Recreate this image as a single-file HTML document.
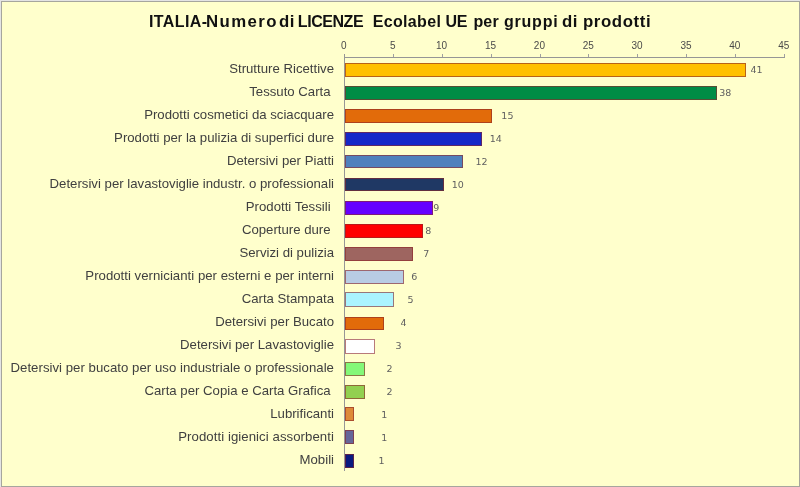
<!DOCTYPE html>
<html lang="it"><head><meta charset="utf-8"><title>ITALIA - Licenze Ecolabel UE</title>
<style>
html,body{margin:0;padding:0;}
body{width:800px;height:487px;overflow:hidden;background:#e4e4e4;position:relative;font-family:"Liberation Sans",sans-serif;}
#chart{position:absolute;left:1px;top:1px;width:797px;height:484px;background:#ffffcc;border:1px solid #a6a69e;}
.abs{position:absolute;white-space:pre;}
#title{position:absolute;left:0;top:10px;width:800px;height:24px;font-weight:bold;font-size:16px;line-height:24px;color:#111;}
#title span{position:absolute;top:0;white-space:pre;transform-origin:0 50%;}
.lab{font-size:13.2px;line-height:16px;color:#404040;text-align:right;left:0;}
.tick{font-size:10px;line-height:12px;color:#4a4a4a;width:40px;text-align:center;top:40px;}
.val{font-family:"DejaVu Sans","Liberation Sans",sans-serif;font-size:9.5px;line-height:12px;color:#606060;width:40px;text-align:center;}
.bar{box-sizing:border-box;border:1px solid rgba(140,40,40,0.62);height:14px;}
.ax{background:#969696;}
.tk{background:#a0a0a0;}
</style></head><body>
<div id="chart"></div>
<div id="title"><span style="left:149.0px;letter-spacing:0.38px">ITALIA-</span><span style="left:206.2px;letter-spacing:1.32px;transform:scaleX(1.05)">Numero </span><span style="left:279.0px;letter-spacing:0.48px;transform:scaleX(1.05)">di </span><span style="left:297.8px;letter-spacing:-0.44px">LICENZE  </span><span style="left:372.8px;letter-spacing:0.32px">Ecolabel </span><span style="left:445.6px;letter-spacing:-0.30px">UE </span><span style="left:473.4px;letter-spacing:0.18px">per </span><span style="left:504.0px;letter-spacing:0.78px">gruppi </span><span style="left:562.1px;letter-spacing:0.50px;transform:scaleX(1.05)">di </span><span style="left:583.4px;letter-spacing:0.56px;transform:scaleX(1.05)">prodotti</span></div>

<div class="abs ax" style="left:344px;top:54px;width:1px;height:417px"></div>
<div class="abs ax" style="left:344px;top:57px;width:441px;height:1px"></div>
<div class="abs tick" style="left:323.9px">0</div>
<div class="abs tk" style="left:392.9px;top:54px;width:1px;height:3px"></div>
<div class="abs tick" style="left:372.8px">5</div>
<div class="abs tk" style="left:441.7px;top:54px;width:1px;height:3px"></div>
<div class="abs tick" style="left:421.6px">10</div>
<div class="abs tk" style="left:490.6px;top:54px;width:1px;height:3px"></div>
<div class="abs tick" style="left:470.5px">15</div>
<div class="abs tk" style="left:539.5px;top:54px;width:1px;height:3px"></div>
<div class="abs tick" style="left:519.4px">20</div>
<div class="abs tk" style="left:588.3px;top:54px;width:1px;height:3px"></div>
<div class="abs tick" style="left:568.2px">25</div>
<div class="abs tk" style="left:637.2px;top:54px;width:1px;height:3px"></div>
<div class="abs tick" style="left:617.1px">30</div>
<div class="abs tk" style="left:686.1px;top:54px;width:1px;height:3px"></div>
<div class="abs tick" style="left:666.0px">35</div>
<div class="abs tk" style="left:734.9px;top:54px;width:1px;height:3px"></div>
<div class="abs tick" style="left:714.8px">40</div>
<div class="abs tk" style="left:783.8px;top:54px;width:1px;height:3px"></div>
<div class="abs tick" style="left:763.7px">45</div>
<div class="abs lab" style="top:60.5px;width:334.0px">Strutture Ricettive</div>
<div class="abs bar" style="left:345px;top:63.0px;width:400.9px;height:13.5px;background:#ffc000"></div>
<div class="abs val" style="left:736.5px;top:64.0px">41</div>
<div class="abs lab" style="top:83.5px;width:330.6px">Tessuto Carta</div>
<div class="abs bar" style="left:345px;top:86.0px;width:371.7px;height:14.0px;background:#008c45"></div>
<div class="abs val" style="left:705.2px;top:87.0px">38</div>
<div class="abs lab" style="top:106.5px;width:334.0px">Prodotti cosmetici da sciacquare</div>
<div class="abs bar" style="left:345px;top:108.5px;width:147.0px;height:14.5px;background:#e26b0a"></div>
<div class="abs val" style="left:487.4px;top:110.0px">15</div>
<div class="abs lab" style="top:129.5px;width:334.0px">Prodotti per la pulizia di superfici dure</div>
<div class="abs bar" style="left:345px;top:132.0px;width:137.2px;height:13.5px;background:#1428c8"></div>
<div class="abs val" style="left:475.7px;top:133.0px">14</div>
<div class="abs lab" style="top:152.5px;width:334.0px">Detersivi per Piatti</div>
<div class="abs bar" style="left:345px;top:154.5px;width:117.9px;height:13.5px;background:#4f81bd"></div>
<div class="abs val" style="left:461.5px;top:156.0px">12</div>
<div class="abs lab" style="top:175.5px;width:334.0px">Detersivi per lavastoviglie industr. o professionali</div>
<div class="abs bar" style="left:345px;top:177.5px;width:98.6px;height:13.5px;background:#1f3864"></div>
<div class="abs val" style="left:437.8px;top:179.0px">10</div>
<div class="abs lab" style="top:198.5px;width:330.6px">Prodotti Tessili</div>
<div class="abs bar" style="left:345px;top:200.5px;width:87.8px;height:14.0px;background:#6600ff"></div>
<div class="abs val" style="left:416.2px;top:202.0px">9</div>
<div class="abs lab" style="top:221.5px;width:330.6px">Coperture dure</div>
<div class="abs bar" style="left:345px;top:223.5px;width:77.9px;height:14.0px;background:#ff0000"></div>
<div class="abs val" style="left:408.2px;top:225.0px">8</div>
<div class="abs lab" style="top:244.5px;width:334.0px">Servizi di pulizia</div>
<div class="abs bar" style="left:345px;top:246.5px;width:68.4px;height:14.5px;background:#9e6560"></div>
<div class="abs val" style="left:406.4px;top:248.0px">7</div>
<div class="abs lab" style="top:267.5px;width:334.0px;letter-spacing:0.02px">Prodotti vernicianti per esterni e per interni</div>
<div class="abs bar" style="left:345px;top:269.5px;width:58.7px;height:14.0px;background:#b8cce4"></div>
<div class="abs val" style="left:394.2px;top:271.0px">6</div>
<div class="abs lab" style="top:290.5px;width:334.0px">Carta Stampata</div>
<div class="abs bar" style="left:345px;top:292.0px;width:48.9px;height:14.5px;background:#aaf4ff"></div>
<div class="abs val" style="left:390.5px;top:294.0px">5</div>
<div class="abs lab" style="top:313.5px;width:334.0px">Detersivi per Bucato</div>
<div class="abs bar" style="left:345px;top:316.5px;width:39.1px;height:13.0px;background:#e26b0a"></div>
<div class="abs val" style="left:383.5px;top:317.0px">4</div>
<div class="abs lab" style="top:336.5px;width:334.0px">Detersivi per Lavastoviglie</div>
<div class="abs bar" style="left:345px;top:339.0px;width:29.6px;height:14.5px;background:#ffffff"></div>
<div class="abs val" style="left:378.5px;top:340.0px">3</div>
<div class="abs lab" style="top:359.5px;width:334.0px;letter-spacing:0.03px">Detersivi per bucato per uso industriale o professionale</div>
<div class="abs bar" style="left:345px;top:362.0px;width:19.6px;height:14.0px;background:#84f878"></div>
<div class="abs val" style="left:369.6px;top:363.0px">2</div>
<div class="abs lab" style="top:382.5px;width:330.6px">Carta per Copia e Carta Grafica</div>
<div class="abs bar" style="left:345px;top:385.0px;width:19.6px;height:14.0px;background:#92d050"></div>
<div class="abs val" style="left:369.6px;top:386.0px">2</div>
<div class="abs lab" style="top:405.5px;width:334.0px">Lubrificanti</div>
<div class="abs bar" style="left:345px;top:407.0px;width:9.2px;height:14.0px;background:#de8a38"></div>
<div class="abs val" style="left:364.2px;top:409.0px">1</div>
<div class="abs lab" style="top:428.5px;width:334.0px;letter-spacing:0.065px">Prodotti igienici assorbenti</div>
<div class="abs bar" style="left:345px;top:430.0px;width:9.2px;height:14.0px;background:#666699"></div>
<div class="abs val" style="left:364.2px;top:432.0px">1</div>
<div class="abs lab" style="top:451.5px;width:334.0px">Mobili</div>
<div class="abs bar" style="left:345px;top:454.0px;width:9.1px;height:13.5px;background:#0a1a80"></div>
<div class="abs val" style="left:361.6px;top:455.0px">1</div>
</body></html>
